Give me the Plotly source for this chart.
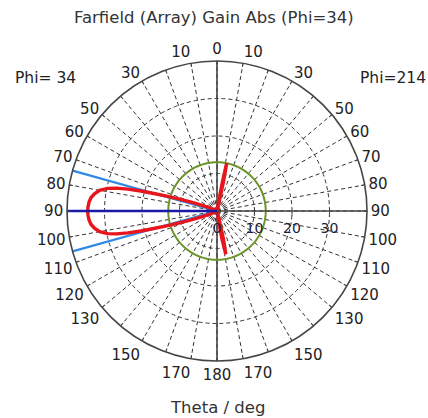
import plotly.graph_objects as go

# ---------------- data ----------------
title_text = "Farfield (Array) Gain Abs (Phi=34)"
left_cut_label = "Phi= 34"
right_cut_label = "Phi=214"
axis_title = "Theta / deg"

theta_labels = [0, 10, 30, 50, 60, 70, 80, 90, 100, 110, 120, 130, 150, 170, 180]
radial_ticks = [0, 10, 20, 30]
radial_max = 40

# Phi = 34 half-plane (drawn on the left)
phi34_theta = [0, 20, 40, 55, 62, 66, 69, 71, 72.5, 73.5, 74.5, 75.3, 76.2, 77.2, 78.3,
               80, 82, 84, 86, 88, 90, 92, 94, 96, 98, 100, 101.7, 102.8, 103.8, 104.7,
               105.5, 106.5, 107.5, 109, 111, 114, 118, 125, 140, 160, 180]
phi34_gain = [0.3, 0.3, 0.4, 0.6, 1.0, 2.0, 4.0, 7.0, 10.5, 14.0, 17.5, 21.0, 24.5, 27.5, 29.8,
              31.8, 33.0, 33.8, 34.2, 34.4, 34.5, 34.4, 34.2, 33.8, 33.0, 31.8, 29.8, 27.5, 24.5, 21.0,
              17.5, 14.0, 10.5, 7.0, 4.0, 2.0, 1.0, 0.6, 0.4, 0.3, 0.3]

# Phi = 214 half-plane (drawn on the right)
phi214_theta = [0, 5, 9, 10.5, 11.5, 12.5, 14, 20, 40, 60, 90, 120, 140, 160,
                165.5, 167, 168.5, 170, 171.5, 175, 180]
phi214_gain = [0.3, 0.5, 1.5, 8.0, 13.0, 8.0, 1.5, 0.5, 0.3, 0.3, 0.3, 0.3, 0.3, 0.5,
               1.5, 7.5, 11.8, 7.5, 1.5, 0.5, 0.3]

main_lobe_theta = 90
beam_edges_theta = [74.4, 105.6]
side_lobe_level = 13.0

# ---------------- figure ----------------
FONT = "DejaVu Sans"
GRID = "#333333"
AXIS = "#454545"

# map theta of each half-plane onto the polar angle (0 at top, counter-clockwise)
curve_angle = phi34_theta + [360 - t for t in phi214_theta[::-1]]
curve_gain = phi34_gain + phi214_gain[::-1]

fig = go.Figure()

# solid axis lines (0/180 vertical, 90 left)
for ang in [0, 180, 90]:
    fig.add_trace(go.Scatterpolar(r=[0, radial_max], theta=[ang, ang], mode="lines",
                                  line=dict(color=AXIS, width=1.6), hoverinfo="skip",
                                  showlegend=False))

# side lobe level circle
circ_ang = list(range(0, 361, 2))
fig.add_trace(go.Scatterpolar(r=[side_lobe_level] * len(circ_ang), theta=circ_ang,
                              mode="lines", line=dict(color="#6a9428", width=2),
                              hoverinfo="skip", showlegend=False))

# 3 dB beam width lines
for t in beam_edges_theta:
    fig.add_trace(go.Scatterpolar(r=[0, radial_max], theta=[t, t], mode="lines",
                                  line=dict(color="#2e8ae6", width=2.2),
                                  hoverinfo="skip", showlegend=False))

# farfield curve
fig.add_trace(go.Scatterpolar(r=curve_gain, theta=curve_angle, mode="lines",
                              line=dict(color="#e8161c", width=3.4),
                              hoverinfo="skip", showlegend=False))

# main lobe direction
fig.add_trace(go.Scatterpolar(r=[0, radial_max], theta=[main_lobe_theta, main_lobe_theta],
                              mode="lines", line=dict(color="#1a1aa6", width=2.4),
                              hoverinfo="skip", showlegend=False))

tickvals = list(range(0, 360, 10))
ticktext = []
for a in tickvals:
    th = a if a <= 180 else 360 - a
    ticktext.append(str(th) if th in theta_labels else "")

W, H = 428, 418
cx, cy, R = 217, 211, 150
fig.update_layout(
    width=W, height=H,
    margin=dict(l=0, r=0, t=0, b=0),
    paper_bgcolor="white", plot_bgcolor="white",
    font=dict(family=FONT, size=15, color="#222222"),
    showlegend=False,
    polar=dict(
        domain=dict(x=[(cx - R) / W, (cx + R) / W],
                    y=[(H - cy - R) / H, (H - cy + R) / H]),
        bgcolor="white",
        angularaxis=dict(
            rotation=90, direction="counterclockwise",
            tickmode="array", tickvals=tickvals, ticktext=ticktext,
            showline=True, linecolor=AXIS, linewidth=1.6,
            showgrid=True, gridcolor=GRID, gridwidth=1.3, griddash="4px,3px",
            ticks="inside", ticklen=3, tickcolor=AXIS,
            tickfont=dict(family=FONT, size=15, color="#222222"),
        ),
        radialaxis=dict(
            range=[0, radial_max], angle=0,
            tickmode="array", tickvals=radial_ticks,
            ticktext=[str(v) for v in radial_ticks],
            showline=True, linecolor=AXIS, linewidth=1.6,
            showgrid=True, gridcolor=GRID, gridwidth=1.3, griddash="4px,3px",
            ticks="outside", ticklen=4, tickcolor=AXIS,
            tickfont=dict(family=FONT, size=14, color="#202040"),
        ),
    ),
    annotations=[
        dict(text=title_text, x=0.5, y=1 - 17 / H, xref="paper", yref="paper",
             showarrow=False, font=dict(family=FONT, size=16.5, color="#333333"),
             xanchor="center", yanchor="middle"),
        dict(text=left_cut_label, x=45 / W, y=1 - 78 / H, xref="paper", yref="paper",
             showarrow=False, font=dict(family=FONT, size=15.5, color="#222222"),
             xanchor="center", yanchor="middle"),
        dict(text=right_cut_label, x=393 / W, y=1 - 78 / H, xref="paper", yref="paper",
             showarrow=False, font=dict(family=FONT, size=15.5, color="#222222"),
             xanchor="center", yanchor="middle"),
        dict(text=axis_title, x=217 / W, y=1 - 407 / H, xref="paper", yref="paper",
             showarrow=False, font=dict(family=FONT, size=16.5, color="#333333"),
             xanchor="center", yanchor="middle"),
    ],
)

fig.write_html("out.html", config={"displayModeBar": False},
               post_script="document.body.style.margin='0';document.body.style.overflow='hidden';")
